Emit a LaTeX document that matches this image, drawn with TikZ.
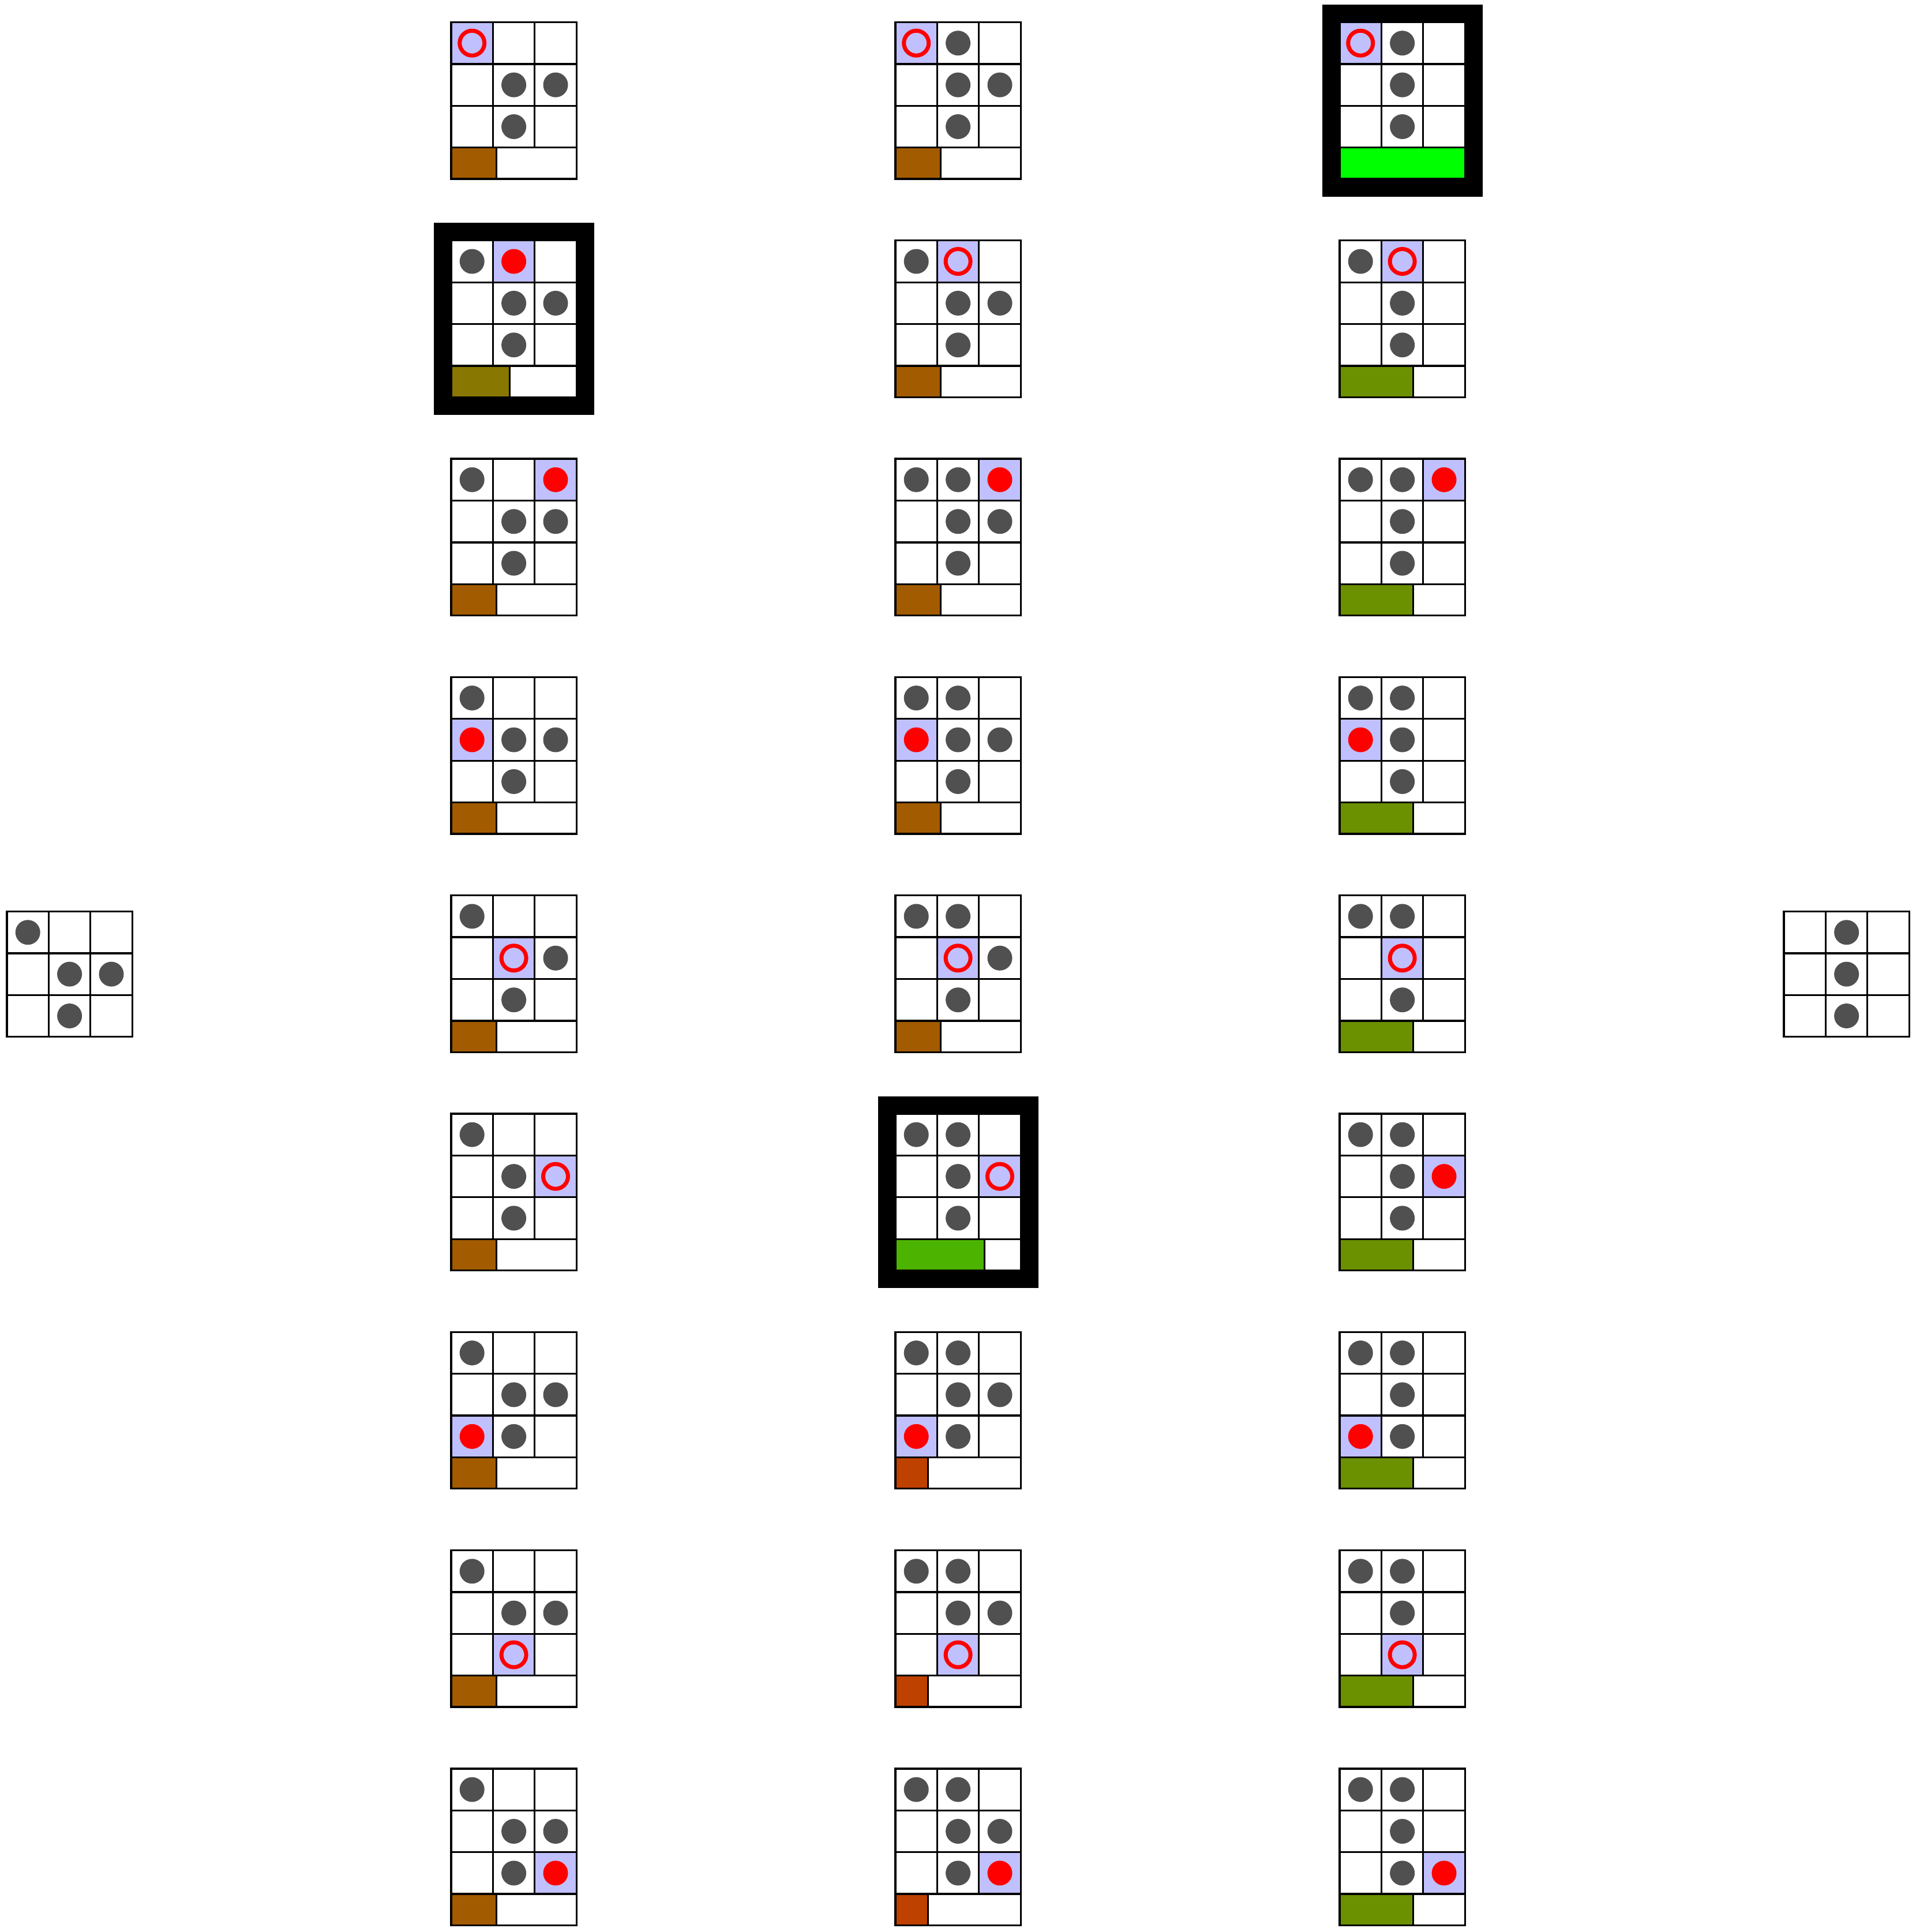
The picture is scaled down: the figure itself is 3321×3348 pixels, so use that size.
\documentclass[tikz,border=0pt]{standalone}
\definecolor{stone}{HTML}{505050}
\definecolor{hl}{RGB}{192,192,255}
\definecolor{vA}{RGB}{190,65,0}
\definecolor{vB}{RGB}{163,91,0}
\definecolor{vC}{RGB}{136,119,0}
\definecolor{vD}{RGB}{107,145,0}
\definecolor{vE}{RGB}{76,180,0}
\definecolor{vF}{RGB}{0,255,0}
\tikzset{
  gridline/.style={draw=black, line width=3.3pt},
  mring/.style={draw=red, line width=7pt},
  mdot/.style={fill=red},
  hframe/.style={fill=black}
}
% plain 3x3 board: x, y (top-left), stones list row/col
\newcommand{\drawboard}[3]{%
  \begin{scope}[shift={(#1,#2)}]
    \fill[white] (0,0) rectangle (217.2,217.2);
    \foreach \sr/\sc in {#3} \fill[stone] ({\sc*72.4+36.2},{\sr*72.4+36.2}) circle (21.5pt);
    \foreach \ii in {1,2} {
      \draw[gridline] ({\ii*72.4},0) -- ({\ii*72.4},217.2);
      \draw[gridline] (0,{\ii*72.4}) -- (217.2,{\ii*72.4});
    }
    \draw[gridline] (0,0) rectangle (217.2,217.2);
  \end{scope}}
% widget: x, y, stones, marker row, marker col, marker style, fraction, bar colour, framed
\newcommand{\drawwidget}[9]{%
  \begin{scope}[shift={(#1,#2)}]
    \ifnum#9=1 \fill[hframe] (-30.5,-30.5) rectangle (247.7,302); \fi
    \fill[white] (0,0) rectangle (217.2,271.5);
    \fill[hl] ({#5*72.4},{#4*72.4}) rectangle ({#5*72.4+72.4},{#4*72.4+72.4});
    \foreach \sr/\sc in {#3} \fill[stone] ({\sc*72.4+36.2},{\sr*72.4+36.2}) circle (21.5pt);
    \path[#6] ({#5*72.4+36.2},{#4*72.4+36.2}) circle (21.5pt);
    \fill[#8] (0,217.2) rectangle ({#7*217.2},271.5);
    \foreach \ii in {1,2} {
      \draw[gridline] ({\ii*72.4},0) -- ({\ii*72.4},217.2);
    }
    \foreach \ii in {1,2,3} {
      \draw[gridline] (0,{\ii*72.4}) -- (217.2,{\ii*72.4});
    }
    \draw[gridline] ({#7*217.2},217.2) -- ({#7*217.2},271.5);
    \draw[gridline] (0,0) rectangle (217.2,271.5);
  \end{scope}}
\begin{document}
\begin{tikzpicture}[x=1pt,y=-1pt]
\useasboundingbox (0,0) rectangle (3321,3348);
% root and final boards
\drawboard{12}{1579.5}{0/0,1/1,1/2,2/1}
\drawboard{3092}{1579.5}{0/1,1/1,2/1}
% column 1
\drawwidget{782}{38.5}{1/1,1/2,2/1}{0}{0}{mring}{0.36}{vB}{0}
\drawwidget{782}{416.8}{0/0,1/1,1/2,2/1}{0}{1}{mdot}{0.468}{vC}{1}
\drawwidget{782}{795.1}{0/0,1/1,1/2,2/1}{0}{2}{mdot}{0.36}{vB}{0}
\drawwidget{782}{1173.4}{0/0,1/1,1/2,2/1}{1}{0}{mdot}{0.36}{vB}{0}
\drawwidget{782}{1551.7}{0/0,1/2,2/1}{1}{1}{mring}{0.36}{vB}{0}
\drawwidget{782}{1930.0}{0/0,1/1,2/1}{1}{2}{mring}{0.36}{vB}{0}
\drawwidget{782}{2308.3}{0/0,1/1,1/2,2/1}{2}{0}{mdot}{0.36}{vB}{0}
\drawwidget{782}{2686.6}{0/0,1/1,1/2}{2}{1}{mring}{0.36}{vB}{0}
\drawwidget{782}{3064.9}{0/0,1/1,1/2,2/1}{2}{2}{mdot}{0.36}{vB}{0}
% column 2
\drawwidget{1552}{38.5}{0/1,1/1,1/2,2/1}{0}{0}{mring}{0.36}{vB}{0}
\drawwidget{1552}{416.8}{0/0,1/1,1/2,2/1}{0}{1}{mring}{0.36}{vB}{0}
\drawwidget{1552}{795.1}{0/0,0/1,1/1,1/2,2/1}{0}{2}{mdot}{0.36}{vB}{0}
\drawwidget{1552}{1173.4}{0/0,0/1,1/1,1/2,2/1}{1}{0}{mdot}{0.36}{vB}{0}
\drawwidget{1552}{1551.7}{0/0,0/1,1/2,2/1}{1}{1}{mring}{0.36}{vB}{0}
\drawwidget{1552}{1930.0}{0/0,0/1,1/1,2/1}{1}{2}{mring}{0.71}{vE}{1}
\drawwidget{1552}{2308.3}{0/0,0/1,1/1,1/2,2/1}{2}{0}{mdot}{0.26}{vA}{0}
\drawwidget{1552}{2686.6}{0/0,0/1,1/1,1/2}{2}{1}{mring}{0.26}{vA}{0}
\drawwidget{1552}{3064.9}{0/0,0/1,1/1,1/2,2/1}{2}{2}{mdot}{0.26}{vA}{0}
% column 3
\drawwidget{2322}{38.5}{0/1,1/1,2/1}{0}{0}{mring}{1}{vF}{1}
\drawwidget{2322}{416.8}{0/0,1/1,2/1}{0}{1}{mring}{0.586}{vD}{0}
\drawwidget{2322}{795.1}{0/0,0/1,1/1,2/1}{0}{2}{mdot}{0.586}{vD}{0}
\drawwidget{2322}{1173.4}{0/0,0/1,1/1,2/1}{1}{0}{mdot}{0.586}{vD}{0}
\drawwidget{2322}{1551.7}{0/0,0/1,2/1}{1}{1}{mring}{0.586}{vD}{0}
\drawwidget{2322}{1930.0}{0/0,0/1,1/1,2/1}{1}{2}{mdot}{0.586}{vD}{0}
\drawwidget{2322}{2308.3}{0/0,0/1,1/1,2/1}{2}{0}{mdot}{0.586}{vD}{0}
\drawwidget{2322}{2686.6}{0/0,0/1,1/1}{2}{1}{mring}{0.586}{vD}{0}
\drawwidget{2322}{3064.9}{0/0,0/1,1/1,2/1}{2}{2}{mdot}{0.586}{vD}{0}
\end{tikzpicture}
\end{document}
